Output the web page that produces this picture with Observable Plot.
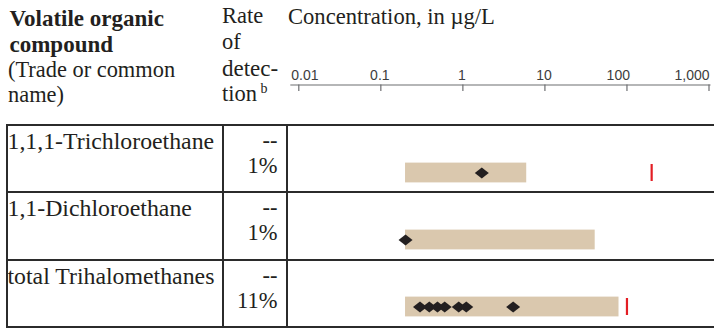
<!DOCTYPE html>
<html>
<head>
<meta charset="utf-8">
<script src="https://cdn.jsdelivr.net/npm/d3@7"></script>
<script src="https://cdn.jsdelivr.net/npm/@observablehq/plot@0.6"></script>
<style>
  html, body { margin: 0; padding: 0; background: #fff; font-family: 'Liberation Serif', serif; }
  #wrap { position: relative; width: 714px; height: 328px; overflow: hidden; background: #fff; }
  #wrap svg { position: absolute; }
  .ln { position: absolute; background: #2b2b2b; }
  .t { position: absolute; white-space: nowrap; line-height: 1; color: #231f20; font-family: 'Liberation Serif', serif; }
</style>
</head>
<body>
<div id="wrap"></div>
<script>
// ---------- data ----------
const compounds = ["1,1,1-Trichloroethane", "1,1-Dichloroethane", "total Trihalomethanes"];
const detectionRates = ["1%", "1%", "11%"];
const rateHeader = ["--", "--", "--"];
const rangeLow = [0.2, 0.2, 0.2];
const rangeHigh = [6, 41, 80];
const detectedValues = [
  [1.7],
  [0.2],
  [0.30, 0.39, 0.49, 0.60, 0.89, 1.1, 4.1]
];
const benchmarkValues = [200, null, 100];
const tickValues = [0.01, 0.1, 1, 10, 100, 1000];
const tickLabels = ["0.01", "0.1", "1", "10", "100", "1,000"];

// ---------- tables built from data ----------
const ranges = compounds.map((c, i) => ({compound: c, lo: rangeLow[i], hi: rangeHigh[i]}));
const detections = compounds.flatMap((c, i) => detectedValues[i].map(v => ({compound: c, value: v})));
const benchmarks = compounds.map((c, i) => ({compound: c, value: benchmarkValues[i]})).filter(d => d.value != null);
const ticks = tickValues.map((v, i) => ({value: v, label: tickLabels[i]}));

const SANS = "Liberation Sans, Arial, sans-serif";
const INK = "#231f20";
const W = 714;
const wrap = document.getElementById("wrap");

// geometry
const tableTop = 125, tableBottom = 327, rowH = (tableBottom - tableTop) / compounds.length;
const colX = [7, 222.7, 286.7];
const chartLeft = colX[2] - 0.7;

function put(text, x, base, {size = 22, weight = "normal", anchor = "start"} = {}) {
  const d = document.createElement("div");
  d.className = "t";
  d.textContent = text;
  d.style.fontFamily = "Liberation Serif";
  d.style.fontSize = size + "px";
  d.style.fontWeight = weight;
  d.style.top = (base - 0.8375 * size) + "px";
  if (anchor === "end") d.style.right = (W - x) + "px"; else d.style.left = x + "px";
  wrap.appendChild(d);
}

// ---------- axis (top) ----------
const xScale = {type: "log", domain: [0.01, 1000], axis: null};
const lbl = {x: "value", text: "label", frameAnchor: "top", lineAnchor: "bottom", dy: -5.5, fontSize: 14, fontFamily: SANS, fill: "#3d3d3d"};
const axisPlot = Plot.plot({
  width: W - chartLeft, height: 92,
  marginLeft: 298.3 - chartLeft, marginRight: 5.5, marginTop: 84.5, marginBottom: 1,
  style: {background: "transparent", overflow: "visible"},
  x: xScale,
  y: {domain: [0, 1], axis: null},
  marks: [
    Plot.ruleY([1], {stroke: "#6d6e71", strokeWidth: 1.2, insetLeft: -8, insetRight: -2}),
    Plot.ruleX(ticks, {x: "value", stroke: "#6d6e71", strokeWidth: 1.2}),
    Plot.text(ticks.slice(1, 4), {...lbl, dx: -1}),
    Plot.text(ticks.slice(0, 1), {...lbl, textAnchor: "start", dx: -7.5}),
    Plot.text(ticks.slice(4, 5), {...lbl, textAnchor: "end", dx: 3}),
    Plot.text(ticks.slice(5, 6), {...lbl, textAnchor: "end", dx: 0.5})
  ]
});
axisPlot.style.left = chartLeft + "px";
axisPlot.style.top = "0px";
wrap.appendChild(axisPlot);

// ---------- rows chart ----------
const wideDiamond = {
  draw(context, size) {
    const r = Math.sqrt(size / Math.PI);
    const h = r * 0.8;
    context.moveTo(-r, 0);
    context.lineTo(0, -h);
    context.lineTo(r, 0);
    context.lineTo(0, h);
    context.closePath();
  }
};
const rowsPlot = Plot.plot({
  width: W - chartLeft, height: tableBottom - tableTop,
  marginLeft: 298.3 - chartLeft, marginRight: 5.5, marginTop: 0, marginBottom: 0,
  style: {background: "transparent", overflow: "visible"},
  x: xScale,
  y: {type: "band", domain: compounds, padding: 0, axis: null},
  marks: [
    Plot.barX(ranges, {x1: "lo", x2: "hi", y: "compound", fill: "#dac8ae", insetTop: 23.6, insetBottom: 23.6, dy: 13}),
    Plot.tickX(benchmarks, {x: "value", y: "compound", stroke: "#e31e24", strokeWidth: 2.2, insetTop: 25, insetBottom: 25, dy: 13}),
    Plot.dot(detections, {x: "value", y: "compound", symbol: wideDiamond, r: 7, fill: INK, stroke: "none", dy: 13})
  ]
});
rowsPlot.style.left = chartLeft + "px";
rowsPlot.style.top = tableTop + "px";
wrap.appendChild(rowsPlot);

// ---------- header texts ----------
put("Volatile organic", 9.5, 26, {size: 23, weight: "bold"});
put("compound", 9.5, 52, {size: 23, weight: "bold"});
put("(Trade or common", 8, 78, {size: 22.4});
put("name)", 8, 103, {size: 22.4});
put("Rate", 222, 24, {size: 22.5});
put("of", 222, 50, {size: 22.5});
put("detec-", 222, 76.5, {size: 23});
put("tion", 222, 102, {size: 22.5});
put("b", 260.5, 94, {size: 14});
put("Concentration, in µg/L", 288, 24.5, {size: 22.6});

// ---------- table rows ----------
compounds.forEach((c, i) => {
  const top = tableTop + i * rowH;
  put(c, 7.5, top + 25, {size: 23.8});
  put(rateHeader[i], 277.5, top + 24, {size: 22.5, anchor: "end"});
  put(detectionRates[i], 277.5, top + 49, {size: 22.5, anchor: "end"});
});

// ---------- grid lines ----------
function line(x, y, w, h) {
  const d = document.createElement("div");
  d.className = "ln";
  d.style.left = x + "px"; d.style.top = y + "px";
  d.style.width = w + "px"; d.style.height = h + "px";
  wrap.appendChild(d);
}
for (let i = 0; i <= compounds.length; i++) {
  const y = tableTop + i * rowH;
  line(colX[0] - 1, y - 1, W - colX[0] + 1, 2);
}
colX.forEach(x => line(x - 1, tableTop - 1, 2, tableBottom - tableTop + 1));
</script>
</body>
</html>
